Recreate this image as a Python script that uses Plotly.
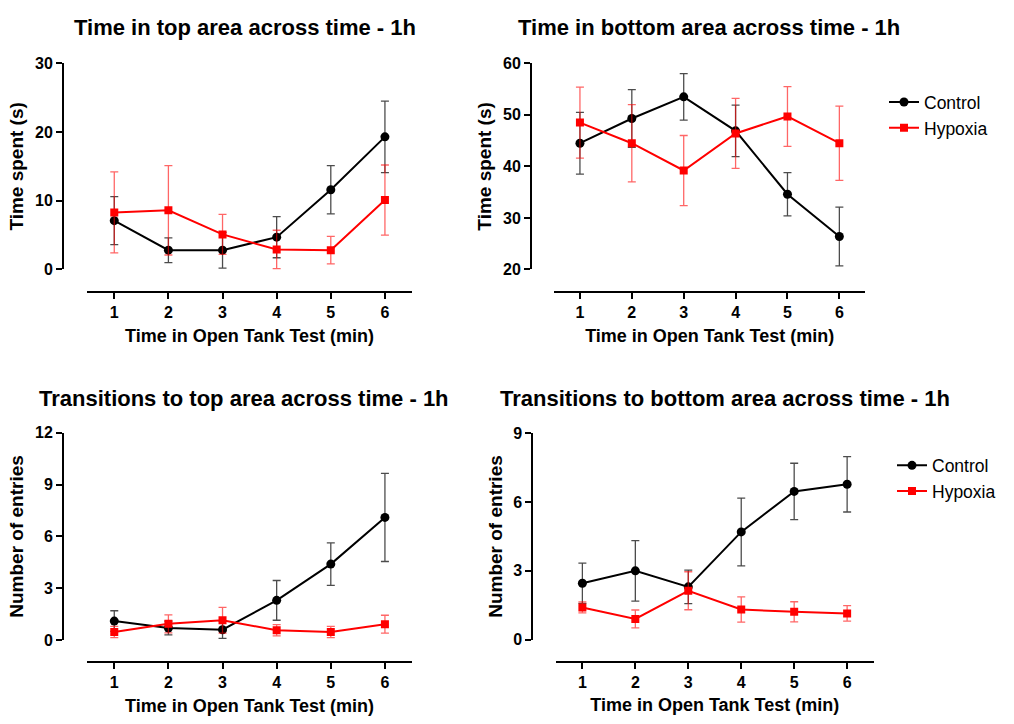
import plotly.graph_objects as go

W, H = 1014, 724

minutes = [1, 2, 3, 4, 5, 6]

top_time_control = [7.1, 2.8, 2.8, 4.7, 11.6, 19.3]
top_time_control_sem = [3.5, 1.8, 2.6, 3.0, 3.5, 5.2]
top_time_hypoxia = [8.3, 8.6, 5.1, 2.9, 2.8, 10.1]
top_time_hypoxia_sem = [5.9, 6.5, 2.9, 2.8, 2.0, 5.1]

bottom_time_control = [44.5, 49.3, 53.5, 46.9, 34.6, 26.4]
bottom_time_control_sem = [6.0, 5.6, 4.5, 5.0, 4.2, 5.7]
bottom_time_hypoxia = [48.5, 44.5, 39.2, 46.4, 49.7, 44.5]
bottom_time_hypoxia_sem = [6.9, 7.5, 6.8, 6.8, 5.8, 7.2]

top_trans_control = [1.1, 0.7, 0.6, 2.3, 4.4, 7.1]
top_trans_control_sem = [0.6, 0.4, 0.5, 1.15, 1.23, 2.55]
top_trans_hypoxia = [0.47, 0.94, 1.15, 0.57, 0.47, 0.92]
top_trans_hypoxia_sem = [0.33, 0.52, 0.75, 0.33, 0.33, 0.52]

bottom_trans_control = [2.46, 3.0, 2.3, 4.7, 6.47, 6.78]
bottom_trans_control_sem = [0.88, 1.32, 0.73, 1.48, 1.23, 1.21]
bottom_trans_hypoxia = [1.4, 0.9, 2.13, 1.31, 1.21, 1.14]
bottom_trans_hypoxia_sem = [0.24, 0.39, 0.83, 0.55, 0.44, 0.34]

titles = [
    "Time in top area across time - 1h",
    "Time in bottom area across time - 1h",
    "Transitions to top area across time - 1h",
    "Transitions to bottom area across time - 1h",
]
x_title = "Time in Open Tank Test (min)"
y_titles = ["Time spent (s)", "Time spent (s)", "Number of entries", "Number of entries"]
y_ranges = [(0, 30), (20, 60), (0, 12), (0, 9)]
y_dticks = [10, 10, 3, 3]
series = [
    (top_time_control, top_time_control_sem, top_time_hypoxia, top_time_hypoxia_sem),
    (bottom_time_control, bottom_time_control_sem, bottom_time_hypoxia, bottom_time_hypoxia_sem),
    (top_trans_control, top_trans_control_sem, top_trans_hypoxia, top_trans_hypoxia_sem),
    (bottom_trans_control, bottom_trans_control_sem, bottom_trans_hypoxia, bottom_trans_hypoxia_sem),
]

# layout geometry in pixels
geo = [
    dict(x0=87.2, x1=412.0, yb=267.7, yt=56.7, yline=63.0, xline=290.7, tx=245, ty=20),
    dict(x0=554.0, x1=865.3, yb=267.7, yt=56.7, yline=531.0, xline=290.7, tx=709, ty=20),
    dict(x0=87.2, x1=412.0, yb=647.3, yt=435.0, yline=63.0, xline=670.0, tx=244, ty=400),
    dict(x0=555.9, x1=873.6, yb=646.7, yt=435.7, yline=532.3, xline=669.3, tx=725, ty=400),
]

FONT = "Liberation Sans, Arial, sans-serif"
BLACK = "#000000"
RED = "#ff0000"

fig = go.Figure()
layout = dict(
    width=W, height=H,
    margin=dict(l=0, r=0, t=0, b=0),
    paper_bgcolor="white", plot_bgcolor="white",
    font=dict(family=FONT, color="black"),
    annotations=[],
)

for i, (g, s) in enumerate(zip(geo, series)):
    n = i + 1
    xa = "x" if n == 1 else f"x{n}"
    ya = "y" if n == 1 else f"y{n}"
    xkey = "xaxis" if n == 1 else f"xaxis{n}"
    ykey = "yaxis" if n == 1 else f"yaxis{n}"
    c, cs, h, hs = s
    leg = "legend"
    show = False
    if n == 2:
        leg, show = "legend", True
    elif n == 4:
        leg, show = "legend2", True
    fig.add_trace(go.Scatter(
        x=minutes, y=c, name="Control", mode="lines+markers",
        line=dict(color=BLACK, width=2),
        marker=dict(symbol="circle", size=9, color=BLACK),
        error_y=dict(type="data", array=cs, visible=True, color="rgba(0,0,0,0.7)", thickness=1.3, width=4),
        xaxis=xa, yaxis=ya, showlegend=show, legend=leg,
    ))
    fig.add_trace(go.Scatter(
        x=minutes, y=h, name="Hypoxia", mode="lines+markers",
        line=dict(color=RED, width=2),
        marker=dict(symbol="square", size=8, color=RED),
        error_y=dict(type="data", array=hs, visible=True, color="rgba(255,0,0,0.6)", thickness=1.3, width=4),
        xaxis=xa, yaxis=ya, showlegend=show, legend=leg,
    ))
    layout[xkey] = dict(
        domain=[g["x0"] / W, g["x1"] / W], range=[0.5, 6.5],
        anchor="free", position=1 - g["xline"] / H,
        tickvals=minutes, ticks="outside", ticklen=6, tickwidth=2, tickcolor="black",
        showline=True, linewidth=2, linecolor="black", showgrid=False, zeroline=False,
        tickfont=dict(family=FONT, size=16, weight="bold", color="black"),
        title=dict(text=x_title, font=dict(family=FONT, size=18, weight="bold", color="black"), standoff=8),
        fixedrange=True,
    )
    layout[ykey] = dict(
        domain=[1 - g["yb"] / H, 1 - g["yt"] / H], range=list(y_ranges[i]),
        anchor="free", position=g["yline"] / W,
        dtick=y_dticks[i], tick0=0, ticks="outside", ticklen=6, tickwidth=2, tickcolor="black",
        showline=True, linewidth=2, linecolor="black", showgrid=False, zeroline=False,
        tickfont=dict(family=FONT, size=16, weight="bold", color="black"),
        title=dict(text=y_titles[i], font=dict(family=FONT, size=19, weight="bold", color="black"), standoff=5),
        fixedrange=True,
    )
    layout["annotations"].append(dict(
        text=titles[i], x=g["tx"] / W, y=1 - g["ty"] / H, xref="paper", yref="paper",
        xanchor="center", yanchor="middle", showarrow=False,
        font=dict(family=FONT, size=22, weight="bold", color="black"),
    ))

legend_style = dict(
    font=dict(family=FONT, size=17.5, color="black"),
    bgcolor="rgba(0,0,0,0)", borderwidth=0, itemwidth=30,
    xanchor="left", yanchor="top", tracegroupgap=0,
)
layout["legend"] = dict(x=884 / W, y=1 - 78 / H, **legend_style)
layout["legend2"] = dict(x=892 / W, y=1 - 450 / H, **legend_style)

fig.update_layout(**layout)
fig.write_html("out.html")
